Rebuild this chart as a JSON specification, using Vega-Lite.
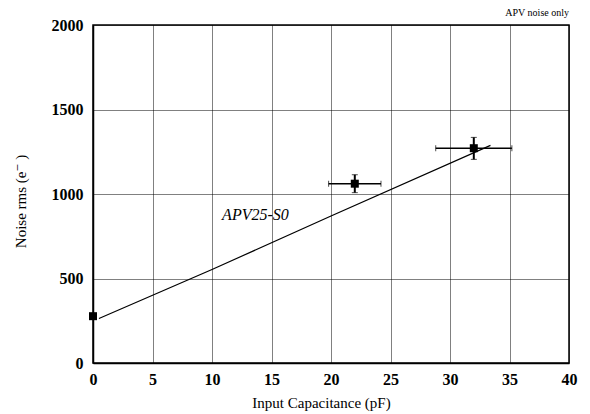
{
  "$schema": "https://vega.github.io/schema/vega-lite/v6.json",
  "width": 476,
  "height": 338,
  "autosize": "none",
  "padding": {"left": 93, "top": 25, "right": 21, "bottom": 51},
  "background": "white",
  "title": {"text": "APV noise only", "anchor": "end", "frame": "group", "font": "Times New Roman, Liberation Serif, DejaVu Serif, serif", "fontSize": 10, "fontWeight": "normal", "color": "black", "offset": -1},
  "config": {
    "view": {"stroke": "black", "strokeWidth": 1.5},
    "axis": {
      "domainColor": "black", "domainWidth": 1.5,
      "grid": true, "gridColor": "black", "gridDash": [1, 1], "gridOpacity": 1, "gridWidth": 1,
      "ticks": false,
      "format": "d",
      "labelFlush": false,
      "labelFont": "Times New Roman, Liberation Serif, DejaVu Serif, serif", "labelFontSize": 16, "labelFontWeight": "bold", "labelColor": "black",
      "titleFont": "Times New Roman, Liberation Serif, DejaVu Serif, serif", "titleFontSize": 15, "titleFontWeight": "normal", "titleColor": "black"
    }
  },
  "datasets": {
    "fit": [
      {"c": 0.5, "n": 263},
      {"c": 10, "n": 553},
      {"c": 20, "n": 870},
      {"c": 33.4, "n": 1288}
    ],
    "meas": [
      {"c": 0, "n": 277, "clo": 0, "chi": 0, "nlo": 277, "nhi": 277},
      {"c": 22, "n": 1061, "clo": 19.8, "chi": 24.2, "nlo": 1008, "nhi": 1114},
      {"c": 32, "n": 1271, "clo": 28.8, "chi": 35.2, "nlo": 1205, "nhi": 1335}
    ],
    "lbl": [
      {"c": 13.65, "n": 874, "t": "APV25-S0"}
    ]
  },
  "layer": [
    {
      "data": {"name": "fit"},
      "mark": {"type": "line", "color": "black", "strokeWidth": 1.2},
      "encoding": {
        "x": {"field": "c", "type": "quantitative", "title": "Input Capacitance (pF)", "scale": {"domain": [0, 40], "nice": false}, "axis": {"values": [0,5,10,15,20,25,30,35,40], "labelPadding": 8, "titleX": 228, "titleY": 39, "titleBaseline": "middle"}},
        "y": {"field": "n", "type": "quantitative", "title": "Noise rms (e⁻ )", "scale": {"domain": [0, 2000], "nice": false}, "axis": {"values": [0,500,1000,1500,2000], "labelPadding": 10, "titleX": -73, "titleY": 176, "titleBaseline": "middle"}}
      }
    },
    {
      "data": {"name": "meas"},
      "transform": [{"filter": "datum.chi > datum.clo"}],
      "mark": {"type": "errorbar", "ticks": {"size": 6, "color": "black", "strokeWidth": 1.5}, "rule": {"color": "black", "strokeWidth": 1.5}},
      "encoding": {
        "x": {"field": "clo", "type": "quantitative", "title": "Input Capacitance (pF)"},
        "x2": {"field": "chi"},
        "y": {"field": "n", "type": "quantitative", "title": "Noise rms (e⁻ )"}
      }
    },
    {
      "data": {"name": "meas"},
      "transform": [{"filter": "datum.nhi > datum.nlo"}],
      "mark": {"type": "errorbar", "ticks": {"size": 6, "color": "black", "strokeWidth": 1.5}, "rule": {"color": "black", "strokeWidth": 2}},
      "encoding": {
        "y": {"field": "nlo", "type": "quantitative", "title": "Noise rms (e⁻ )"},
        "y2": {"field": "nhi"},
        "x": {"field": "c", "type": "quantitative", "title": "Input Capacitance (pF)"}
      }
    },
    {
      "data": {"name": "meas"},
      "mark": {"type": "square", "color": "black", "filled": true, "opacity": 1, "size": 64, "clip": false},
      "encoding": {
        "x": {"field": "c", "type": "quantitative", "title": "Input Capacitance (pF)"},
        "y": {"field": "n", "type": "quantitative", "title": "Noise rms (e⁻ )"}
      }
    },
    {
      "data": {"name": "lbl"},
      "mark": {"type": "text", "font": "Times New Roman, Liberation Serif, DejaVu Serif, serif", "fontSize": 16, "fontStyle": "italic", "color": "black", "align": "center", "baseline": "middle"},
      "encoding": {
        "x": {"field": "c", "type": "quantitative", "title": "Input Capacitance (pF)"},
        "y": {"field": "n", "type": "quantitative", "title": "Noise rms (e⁻ )"},
        "text": {"field": "t"}
      }
    }
  ]
}
